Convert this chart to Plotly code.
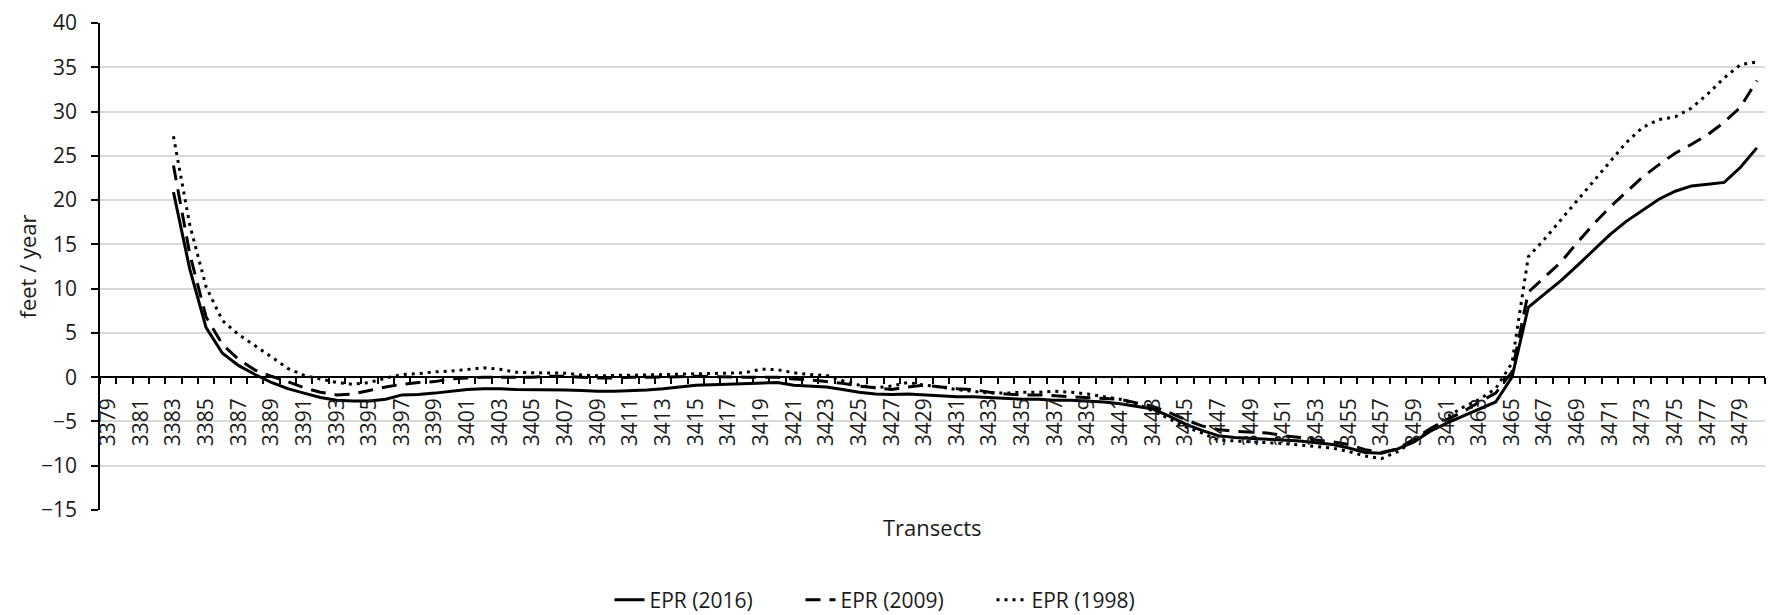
import plotly.graph_objects as go

# ---- data ----
transects = list(range(3383, 3481))

epr_2016 = [20.9, 12.2, 5.6, 2.7, 1.3, 0.3, -0.6, -1.3, -1.8, -2.3,
            -2.6, -2.7, -2.7, -2.5, -2.0, -1.95, -1.8, -1.6, -1.4, -1.3,
            -1.3, -1.4, -1.4, -1.4, -1.45, -1.5, -1.6, -1.6, -1.55, -1.45,
            -1.3, -1.1, -0.9, -0.85, -0.8, -0.75, -0.7, -0.6, -0.9, -1.0,
            -1.1, -1.4, -1.7, -1.9, -1.95, -1.9, -2.0, -2.1, -2.2, -2.2,
            -2.3, -2.4, -2.5, -2.5, -2.6, -2.6, -2.7, -2.8, -3.0, -3.3,
            -3.6, -4.4, -5.3, -6.0, -6.6, -6.8, -6.9, -7.0, -7.1, -7.2,
            -7.4, -7.6, -8.0, -8.5, -8.6, -8.1, -7.3, -6.1, -5.2, -4.4,
            -3.6, -2.8, 0.0, 7.9, 9.4, 10.9, 12.6, 14.4, 16.1, 17.6,
            18.9, 20.1, 21.0, 21.6, 21.8, 22.0, 23.7, 25.9]

epr_2009 = [23.9, 13.9, 6.8, 3.7, 2.0, 0.8, 0.1, -0.5, -1.2, -1.7,
            -2.0, -1.9, -1.5, -1.1, -0.8, -0.6, -0.5, -0.2, -0.1, 0.0,
            0.0, 0.0, 0.0, 0.1, 0.1, 0.0, -0.1, -0.1, 0.0, 0.0,
            0.0, 0.05, 0.1, 0.05, 0.0, 0.0, 0.0, 0.0, -0.2, -0.3,
            -0.5, -0.7, -1.0, -1.2, -1.4, -1.1, -0.9, -1.1, -1.3, -1.4,
            -1.7, -1.9, -2.0, -2.0, -2.1, -2.2, -2.3, -2.4, -2.5, -2.9,
            -3.3, -4.0, -4.8, -5.5, -5.9, -6.1, -6.2, -6.3, -6.6, -6.8,
            -7.1, -7.3, -7.6, -8.2, -8.5, -8.1, -7.0, -5.8, -4.8, -3.9,
            -2.8, -1.8, 0.6, 9.6, 11.3, 13.0, 15.2, 17.3, 19.2, 20.9,
            22.6, 24.0, 25.3, 26.3, 27.4, 28.8, 30.5, 33.5]

epr_1998 = [27.2, 17.2, 10.2, 6.4, 4.8, 3.6, 2.3, 1.0, 0.2, -0.2,
            -0.6, -0.8, -0.6, -0.1, 0.3, 0.4, 0.6, 0.7, 0.85, 1.05,
            0.9, 0.55, 0.5, 0.5, 0.45, 0.25, 0.15, 0.2, 0.2, 0.25,
            0.3, 0.35, 0.4, 0.45, 0.5, 0.5, 0.9, 0.85, 0.5, 0.3,
            0.2, -0.4, -0.9, -1.2, -1.0, -0.6, -0.9, -1.1, -1.4, -1.6,
            -1.8, -1.8, -1.7, -1.7, -1.6, -1.7, -1.9, -2.2, -2.5, -3.0,
            -3.8, -4.7, -5.6, -6.3, -7.1, -7.2, -7.3, -7.35, -7.5, -7.65,
            -7.8, -8.0, -8.4, -8.9, -9.2, -8.4, -7.2, -6.0, -4.5, -3.4,
            -2.5, -1.3, 1.6, 13.6, 15.6, 17.8, 20.0, 22.2, 24.4, 26.5,
            28.2, 29.1, 29.4, 30.4, 32.0, 33.8, 35.3, 35.6]

first_transect = 3379
last_transect = 3480
tick_transects = list(range(3379, 3481, 2))
tick_labels = [str(t) for t in tick_transects]

y_min, y_max, y_step = -15, 40, 5

series_names = ["EPR (2016)", "EPR (2009)", "EPR (1998)"]

# ---- figure ----
FONT = "Open Sans"
TXT = "#1a1a1a"
FS = 21

fig = go.Figure()
dashes = ["solid", "15px,9px", "3px,5px"]
for name, vals, dash in zip(series_names, [epr_2016, epr_2009, epr_1998], dashes):
    fig.add_trace(go.Scatter(
        x=transects, y=vals, mode="lines", name=name,
        line=dict(color="black", width=3, dash=dash),
    ))

zero_pos = (0 - y_min) / (y_max - y_min)

# page body adds an 8px offset, so the figure is sized to the visible area
W, H = 1769, 607
L, R, T, B = 92, 12, 15, 105
plot_h = H - T - B

fig.update_layout(
    width=W, height=H,
    margin=dict(l=L, r=R, t=T, b=B, autoexpand=False),
    paper_bgcolor="white", plot_bgcolor="white",
    font=dict(family=FONT, size=FS, color=TXT),
    showlegend=True,
    legend=dict(
        orientation="h", x=0.306, xanchor="left", y=-90 / plot_h, yanchor="middle",
        entrywidth=146, entrywidthmode="pixels",
        font=dict(family=FONT, size=FS, color=TXT),
        bgcolor="rgba(0,0,0,0)",
    ),
    xaxis=dict(
        range=[first_transect - 0.5, last_transect + 0.5],
        anchor="free", position=zero_pos,
        showline=True, linecolor="black", linewidth=1.5,
        showgrid=False, zeroline=False,
        tickmode="array", tickvals=tick_transects, ticktext=tick_labels,
        ticks="", tickangle=-90, ticklabelstandoff=12,
        ticklabeloverflow="allow",
        tickfont=dict(family=FONT, size=FS, color=TXT),
        minor=dict(ticks="outside", ticklen=6, tickwidth=1.5, tickcolor="black",
                   tick0=first_transect - 0.5, dtick=1, showgrid=False),
    ),
    yaxis=dict(
        range=[y_min, y_max], dtick=y_step, tick0=0,
        showline=True, linecolor="black", linewidth=1.5,
        showgrid=True, gridcolor="#d9d9d9", gridwidth=1.5,
        zeroline=False,
        ticks="outside", ticklen=7, tickwidth=1.5, tickcolor="black",
        ticklabelstandoff=10, ticklabeloverflow="allow",
        tickfont=dict(family=FONT, size=FS, color=TXT),
    ),
    annotations=[
        dict(text="feet / year", xref="paper", yref="paper",
             x=-(L - 18) / (W - L - R), y=0.5, xanchor="center", yanchor="middle",
             textangle=-90, showarrow=False,
             font=dict(family=FONT, size=22, color=TXT)),
        dict(text="Transects", xref="paper", yref="paper",
             x=0.5, y=-17 / plot_h, xanchor="center", yanchor="middle",
             showarrow=False, font=dict(family=FONT, size=22, color=TXT)),
    ],
)

fig.write_html("out.html")
